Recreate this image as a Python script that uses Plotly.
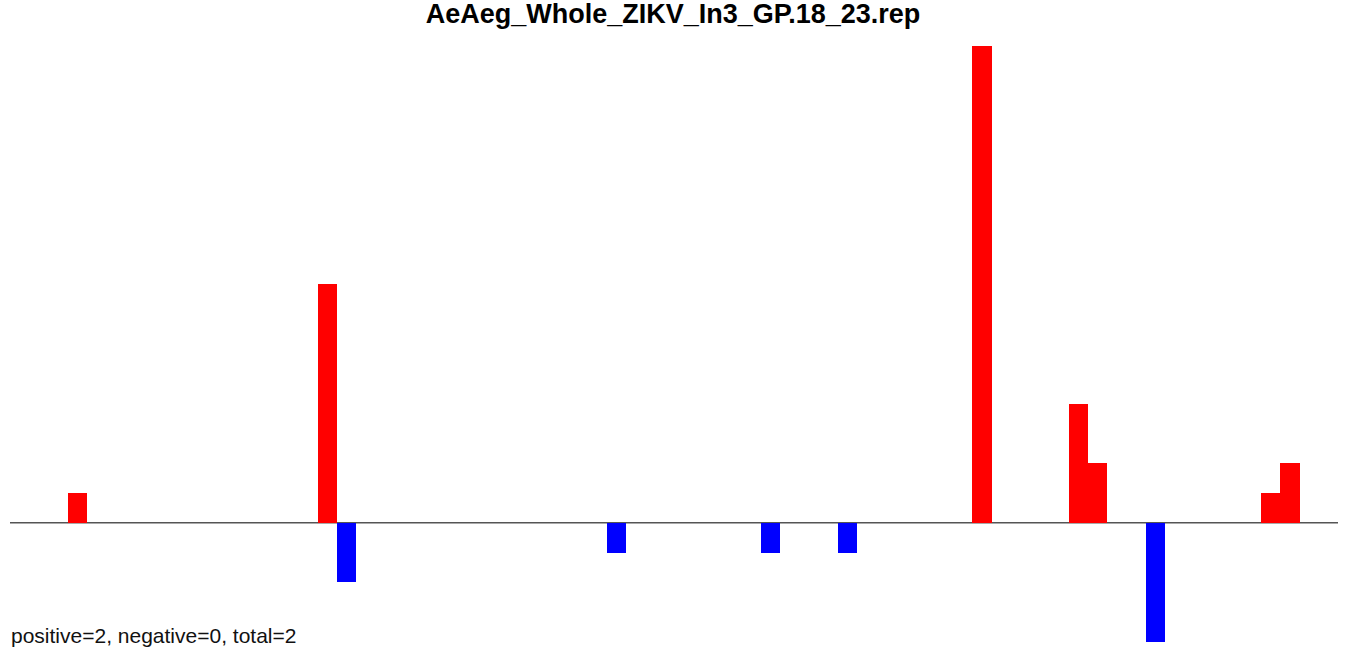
import plotly.graph_objects as go

# Data
n_slots = 69
pos_x = [3, 16, 50, 55, 56, 65, 66]
pos_vals = [1, 8, 16, 4, 2, 1, 2]
neg_x = [17, 31, 39, 43, 59]
neg_vals = [-2, -1, -1, -1, -4]
title_text = "AeAeg_Whole_ZIKV_In3_GP.18_23.rep"
footer_text = "positive=2, negative=0, total=2"

fig = go.Figure()
fig.add_trace(go.Bar(x=[p + 0.5 for p in pos_x], y=pos_vals, width=1,
                     marker=dict(color="#ff0000", line=dict(width=0)), showlegend=False,
                     hoverinfo="skip"))
fig.add_trace(go.Bar(x=[p + 0.5 for p in neg_x], y=neg_vals, width=1,
                     marker=dict(color="#0000ff", line=dict(width=0)), showlegend=False,
                     hoverinfo="skip"))

fig.add_shape(type="line", xref="x", yref="y", x0=0, x1=n_slots, y0=0, y1=0,
              line=dict(color="#555555", width=1.5), layer="below")

fig.update_layout(
    width=1350, height=658,
    margin=dict(l=10, r=12, t=46, b=16),
    paper_bgcolor="white", plot_bgcolor="white",
    title=dict(text="<b>" + title_text + "</b>", x=673 / 1350, xanchor="center",
               y=1 - 14 / 658, yanchor="middle",
               font=dict(family="Liberation Sans, Arial", size=27, color="black")),
    xaxis=dict(range=[0, n_slots], visible=False, fixedrange=True),
    yaxis=dict(range=[-4, 16], visible=False, fixedrange=True),
    bargap=0, barmode="overlay",
    annotations=[dict(text=footer_text, xref="paper", yref="paper", x=0, y=0,
                      xshift=-1, xanchor="left", yanchor="middle",
                      yshift=7, showarrow=False,
                      font=dict(family="Liberation Sans, Arial", size=21, color="#111111"))],
)
fig.write_html("out.html", config={"displayModeBar": False},
               post_script="document.body.style.margin='0';document.body.style.overflow='hidden';")
